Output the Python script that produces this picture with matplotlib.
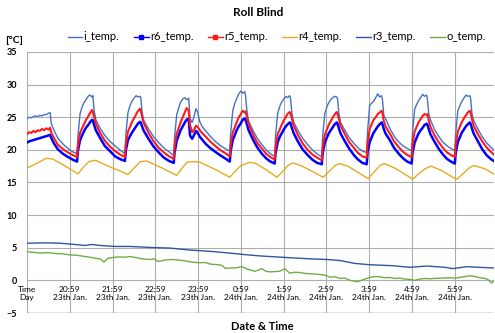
import matplotlib
matplotlib.use('Agg')
import matplotlib.pyplot as plt
from matplotlib.lines import Line2D

plt.rcParams['font.family'] = ['Lato', 'DejaVu Sans']

# hours after 19:59 on 23th Jan.
tick_pos = [0, 1, 2, 3, 4, 5, 6, 7, 8, 9, 10]
tick_labels = ['Time\nDay', '20:59\n23th Jan.', '21:59\n23th Jan.', '22:59\n23th Jan.',
               '23:59\n23th Jan.', '0:59\n24th Jan.', '1:59\n24th Jan.', '2:59\n24th Jan.',
               '3:59\n24th Jan.', '4:59\n24th Jan.', '5:59\n24th Jan.']

# room sensors (inside / r6 / r5)
t_room = [0.00, 0.05, 0.10, 0.15, 0.20, 0.25, 0.30, 0.35, 0.40, 0.45, 0.50, 0.54,
          0.57, 0.63, 0.72, 0.84, 0.96, 1.07,
          1.17, 1.19, 1.24, 1.29, 1.33, 1.38, 1.43, 1.47, 1.52, 1.54, 1.57, 1.61, 1.71, 1.82, 1.94, 2.06, 2.17,
          2.29, 2.31, 2.36, 2.41, 2.45, 2.50, 2.55, 2.59, 2.64, 2.66, 2.69, 2.73, 2.84, 2.96, 3.08, 3.20, 3.32,
          3.43, 3.45, 3.50, 3.55, 3.59, 3.64, 3.69, 3.73, 3.78, 3.81, 3.86, 3.90, 3.95, 3.99, 4.04, 4.09, 4.18,
          4.28, 4.40, 4.51, 4.63,
          4.74, 4.76, 4.81, 4.86, 4.90, 4.95, 5.00, 5.04, 5.09, 5.11, 5.14, 5.18, 5.28, 5.38, 5.49, 5.59, 5.69,
          5.79, 5.81, 5.86, 5.91, 5.95, 6.00, 6.05, 6.09, 6.14, 6.16, 6.19, 6.23, 6.33, 6.44, 6.56, 6.67, 6.78,
          6.89, 6.91, 6.96, 7.01, 7.05, 7.10, 7.15, 7.19, 7.24, 7.26, 7.29, 7.33, 7.43, 7.53, 7.64, 7.74, 7.84,
          7.94, 7.96, 8.01, 8.06, 8.10, 8.15, 8.20, 8.24, 8.29, 8.31, 8.34, 8.38, 8.48, 8.58, 8.69, 8.79, 8.89,
          8.99, 9.01, 9.06, 9.11, 9.15, 9.20, 9.25, 9.29, 9.34, 9.36, 9.39, 9.43, 9.52, 9.62, 9.72, 9.82, 9.91,
          10.00, 10.02, 10.07, 10.12, 10.16, 10.21, 10.26, 10.30, 10.35, 10.37, 10.40, 10.44, 10.54, 10.64,
          10.74, 10.84, 10.91]

i_temp = [24.8, 25.0, 24.9, 25.1, 25.2, 25.1, 25.3, 25.2, 25.4, 25.4, 25.6, 25.7,
          24.0, 23.0, 21.8, 20.9, 20.2, 19.7,
          19.4, 22.0, 25.5, 26.6, 27.2, 27.7, 28.2, 28.4, 28.1, 28.3, 26.0, 24.6, 23.3, 22.2, 21.3, 20.6, 20.0,
          19.4, 22.3, 25.7, 26.8, 27.4, 27.9, 28.3, 28.1, 28.2, 28.0, 25.8, 24.5, 23.2, 22.0, 21.1, 20.3, 19.7,
          19.1, 22.0, 25.4, 26.5, 27.3, 27.8, 28.0, 27.7, 27.9, 24.8, 24.2, 25.0, 26.3, 25.8, 24.3, 23.6, 22.9,
          22.1, 21.3, 20.7, 20.2,
          19.8, 22.5, 26.0, 27.2, 27.8, 28.6, 29.0, 28.7, 28.9, 28.2, 26.0, 24.4, 23.0, 21.8, 20.8, 20.0, 19.4,
          19.0, 22.2, 25.6, 26.7, 27.3, 27.8, 28.2, 28.0, 28.3, 27.9, 25.7, 24.3, 23.0, 21.8, 20.8, 20.0, 19.4,
          18.9, 22.0, 25.5, 26.6, 27.2, 27.7, 28.0, 28.2, 28.1, 27.8, 25.6, 24.2, 23.0, 21.9, 21.0, 20.3, 19.8,
          19.6, 22.8, 26.8, 27.2, 27.4, 28.0, 28.6, 28.1, 28.3, 27.6, 25.3, 24.8, 23.3, 22.1, 21.2, 20.6, 20.2,
          19.9, 22.6, 26.2, 27.0, 27.5, 28.0, 28.5, 28.2, 28.4, 27.7, 25.5, 24.6, 23.2, 22.1, 21.2, 20.6, 20.2,
          19.9, 22.5, 26.0, 26.8, 27.4, 27.9, 28.4, 28.2, 28.3, 27.8, 25.6, 24.5, 23.2, 22.0,
          21.1, 20.4, 20.0]

r5_temp = [22.4, 22.7, 22.6, 22.9, 22.7, 23.0, 22.9, 23.2, 23.0, 23.3, 23.1, 23.4,
           22.6, 21.8, 20.8, 20.1, 19.6, 19.2,
           18.9, 20.6, 22.6, 23.3, 23.9, 24.6, 25.1, 25.6, 26.1, 25.8, 25.0, 24.0, 22.6, 21.4, 20.5, 19.8, 19.3,
           18.9, 20.8, 22.8, 23.6, 24.2, 24.8, 25.4, 25.9, 26.3, 26.0, 25.1, 24.1, 22.6, 21.3, 20.3, 19.6, 19.0,
           18.6, 20.5, 22.5, 23.4, 24.2, 25.0, 25.8, 26.4, 26.0, 23.8, 22.7, 23.0, 23.7, 23.5, 23.0, 22.6, 22.0,
           21.3, 20.6, 20.0, 19.5,
           19.0, 20.8, 22.7, 23.5, 24.2, 25.0, 25.5, 26.0, 25.7, 25.9, 25.0, 24.0, 22.4, 21.1, 20.2, 19.4, 18.9,
           18.5, 20.4, 22.4, 23.2, 23.8, 24.5, 25.0, 25.5, 25.8, 25.6, 24.8, 23.8, 22.3, 21.0, 20.0, 19.3, 18.8,
           18.4, 20.3, 22.3, 23.1, 23.8, 24.4, 25.0, 25.4, 25.8, 25.5, 24.7, 23.7, 22.4, 21.2, 20.3, 19.5, 19.0,
           18.8, 21.0, 23.2, 24.0, 24.6, 25.0, 25.5, 25.7, 26.0, 25.6, 24.4, 23.6, 22.5, 21.3, 20.4, 19.7, 19.2,
           18.9, 20.8, 22.8, 23.6, 24.2, 24.7, 25.2, 25.5, 25.3, 25.5, 24.5, 23.5, 22.3, 21.2, 20.3, 19.6, 19.2,
           18.9, 20.8, 22.8, 23.6, 24.2, 24.8, 25.3, 25.7, 26.0, 25.7, 24.7, 23.7, 22.4, 21.3,
           20.4, 19.7, 19.3]

r6_temp = [21.1, 21.3, 21.4, 21.5, 21.6, 21.7, 21.8, 21.9, 22.0, 22.1, 22.2, 22.3,
           21.8, 21.0, 20.1, 19.4, 18.9, 18.5,
           18.2, 19.8, 21.5, 22.2, 22.8, 23.4, 23.8, 24.2, 24.6, 24.5, 23.8, 23.0, 21.8, 20.6, 19.8, 19.0, 18.6,
           18.3, 19.9, 21.5, 22.1, 22.6, 23.1, 23.6, 24.0, 24.3, 24.2, 23.6, 22.9, 21.7, 20.5, 19.6, 18.8, 18.3,
           18.0, 19.6, 21.4, 22.3, 23.0, 23.6, 24.2, 24.6, 24.8, 22.2, 21.7, 22.2, 22.9, 22.6, 22.0, 21.6, 20.9,
           20.3, 19.7, 19.2, 18.7,
           18.2, 19.8, 21.5, 22.3, 23.0, 23.6, 24.1, 24.6, 24.8, 24.6, 23.9, 23.0, 21.6, 20.4, 19.4, 18.7, 18.2,
           17.9, 19.5, 21.2, 22.0, 22.5, 23.1, 23.6, 23.9, 24.2, 24.1, 23.4, 22.6, 21.3, 20.1, 19.2, 18.5, 18.0,
           17.8, 19.4, 21.1, 21.9, 22.5, 23.0, 23.5, 23.9, 24.2, 24.0, 23.3, 22.5, 21.3, 20.2, 19.2, 18.5, 18.0,
           17.8, 19.6, 21.2, 22.0, 22.6, 23.1, 23.6, 23.9, 24.2, 23.9, 23.2, 22.5, 21.5, 20.3, 19.4, 18.7, 18.2,
           17.9, 19.5, 21.1, 21.9, 22.5, 23.0, 23.4, 23.8, 24.0, 23.9, 23.2, 22.4, 21.3, 20.2, 19.3, 18.6, 18.2,
           17.9, 19.5, 21.2, 22.0, 22.6, 23.1, 23.6, 23.9, 24.2, 24.0, 23.3, 22.5, 21.3, 20.1,
           19.2, 18.6, 18.3]

t_r4 = [0, 0.25, 0.45, 0.6, 0.9, 1.19, 1.3, 1.45, 1.6, 1.9, 2.2, 2.36, 2.5, 2.65, 2.8, 3.1, 3.5,
        3.6, 3.74, 3.9, 4.04, 4.4, 4.74, 4.85, 5.0, 5.21, 5.35, 5.6, 5.84, 5.95, 6.1, 6.21, 6.4,
        6.7, 6.92, 7.05, 7.2, 7.3, 7.5, 7.75, 7.97, 8.1, 8.25, 8.35, 8.6, 8.85, 9.02, 9.15, 9.3,
        9.45, 9.7, 9.9, 10.05, 10.2, 10.35, 10.45, 10.7, 10.91]
r4_temp = [17.2, 18.0, 18.7, 18.6, 17.5, 16.3, 17.2, 18.2, 18.4, 17.5, 16.7, 16.2, 17.2, 18.2, 18.3,
           17.4, 16.1, 17.0, 18.1, 18.2, 18.1, 17.0, 15.8, 16.6, 17.6, 18.1, 17.9, 16.9, 15.8, 16.5,
           17.6, 18.0, 17.6, 16.6, 15.8, 16.6, 17.6, 17.9, 17.5, 16.5, 15.6, 16.5, 17.6, 17.9, 17.2,
           16.2, 15.5, 16.3, 17.1, 17.5, 16.8, 16.0, 15.5, 16.4, 17.3, 17.6, 17.1, 16.3]

t_r3 = [0.00, 0.42, 0.77, 1.12, 1.36, 1.52, 1.71, 2.06, 2.41, 2.87, 3.34, 3.81, 4.28, 4.63, 5.09,
        5.44, 6.07, 6.61, 7.01, 7.31, 7.66, 8.01, 8.55, 8.95, 9.35, 9.77, 9.95, 10.28, 10.58, 10.91]
r3_temp = [5.7, 5.75, 5.7, 5.5, 5.35, 5.5, 5.35, 5.2, 5.2, 5.05, 4.95, 4.65, 4.45, 4.25, 3.95,
           3.75, 3.5, 3.3, 3.2, 3.05, 2.6, 2.4, 2.25, 2.0, 2.2, 2.0, 1.8, 2.1, 2.0, 1.9]

t_o = [0.00, 0.14, 0.30, 0.49, 0.70, 0.86, 1.00, 1.17, 1.31, 1.47, 1.59, 1.71, 1.80, 1.89, 2.01,
       2.13, 2.27, 2.41, 2.55, 2.69, 2.87, 2.97, 3.06, 3.22, 3.36, 3.50, 3.69, 3.86, 4.04, 4.16,
       4.28, 4.46, 4.56, 4.63, 4.79, 4.91, 5.02, 5.16, 5.33, 5.49, 5.58, 5.68, 5.91, 6.03, 6.14,
       6.26, 6.38, 6.52, 6.66, 6.85, 6.99, 7.08, 7.20, 7.31, 7.43, 7.55, 7.73, 7.90, 8.01, 8.13,
       8.25, 8.36, 8.48, 8.60, 8.71, 8.83, 8.95, 9.07, 9.18, 9.30, 9.42, 9.53, 9.70, 9.88, 10.02,
       10.16, 10.35, 10.47, 10.58, 10.70, 10.77, 10.86, 10.91]
o_temp = [4.4, 4.3, 4.2, 4.25, 4.1, 4.05, 3.9, 3.85, 3.7, 3.55, 3.4, 3.3, 2.8, 3.4, 3.5,
          3.6, 3.55, 3.65, 3.5, 3.3, 3.2, 3.3, 2.9, 3.1, 3.2, 3.15, 3.0, 2.8, 2.7, 2.75,
          2.5, 2.4, 2.3, 1.85, 1.9, 1.95, 2.1, 1.7, 1.4, 1.8, 1.4, 1.3, 1.4, 1.8, 1.1,
          1.25, 1.2, 1.05, 1.0, 0.9, 0.75, 0.5, 0.55, 0.3, 0.35, 0.0, -0.2, 0.2, 0.45, 0.6,
          0.55, 0.4, 0.45, 0.3, 0.35, 0.2, 0.15, 0.0, 0.2, 0.3, 0.25, 0.3, 0.35, 0.4, 0.35,
          0.5, 0.7, 0.6, 0.4, 0.3, 0.15, -0.4, -0.1]

fig = plt.figure(figsize=(4.95, 3.33), dpi=100)
ax = fig.add_axes([0.0545, 0.06, 0.943, 0.784])

ax.plot(t_room, i_temp, color='#4472C4', lw=1.0)
ax.plot(t_room, r6_temp, color='#0000FF', lw=1.8)
ax.plot(t_room, r5_temp, color='#FF1A1A', lw=1.5)
ax.plot(t_r4, r4_temp, color='#E5AC1F', lw=1.0)
ax.plot(t_r3, r3_temp, color='#2F55A2', lw=1.0)
ax.plot(t_o, o_temp, color='#70AD47', lw=1.0)

# category axis crosses at 0, like the original sheet
for s in ['top', 'right', 'left']:
    ax.spines[s].set_visible(False)
ax.spines['bottom'].set_position(('data', 0))
ax.spines['bottom'].set_visible(False)

ax.set_xlim(0, 10.91)
ax.set_ylim(-5, 35)
ax.set_yticks(range(-5, 36, 5))
ax.set_xticks(tick_pos)
ax.set_xticklabels(tick_labels)
ax.tick_params(axis='y', length=0, pad=7, labelsize=6.5)
ax.tick_params(axis='x', length=0, pad=4, labelsize=6)
for lab in ax.get_yticklabels():
    lab.set_fontweight('bold')
ax.grid(True, color='#ADADAD', lw=0.8)
ax.set_axisbelow(True)
ax.axhline(-5, color='#808080', lw=1.0)

handles = [
    Line2D([], [], color='#4472C4', lw=1.0),
    Line2D([], [], color='#0000FF', lw=1.0, marker='s', ms=2.5),
    Line2D([], [], color='#FF1A1A', lw=1.0, marker='s', ms=2.5),
    Line2D([], [], color='#E5AC1F', lw=1.0),
    Line2D([], [], color='#2F55A2', lw=1.0),
    Line2D([], [], color='#70AD47', lw=1.0),
]
names = ['i_temp.', 'r6_temp.', 'r5_temp.', 'r4_temp.', 'r3_temp.', 'o_temp.']
fig.legend(handles, names, loc='center', bbox_to_anchor=(0.559, 0.889), ncol=6,
           frameon=False, fontsize=8, handlelength=1.3, handletextpad=0.15,
           columnspacing=1.3)

fig.text(0.521, 0.962, 'Roll Blind', ha='center', va='center', fontsize=8.5, fontweight='bold')
fig.text(0.029, 0.877, '[°C]', ha='center', va='center', fontsize=7.5, fontweight='bold')
fig.text(0.53, 0.021, 'Date & Time', ha='center', va='center', fontsize=8, fontweight='bold')

fig.savefig('out.png', dpi=100)
